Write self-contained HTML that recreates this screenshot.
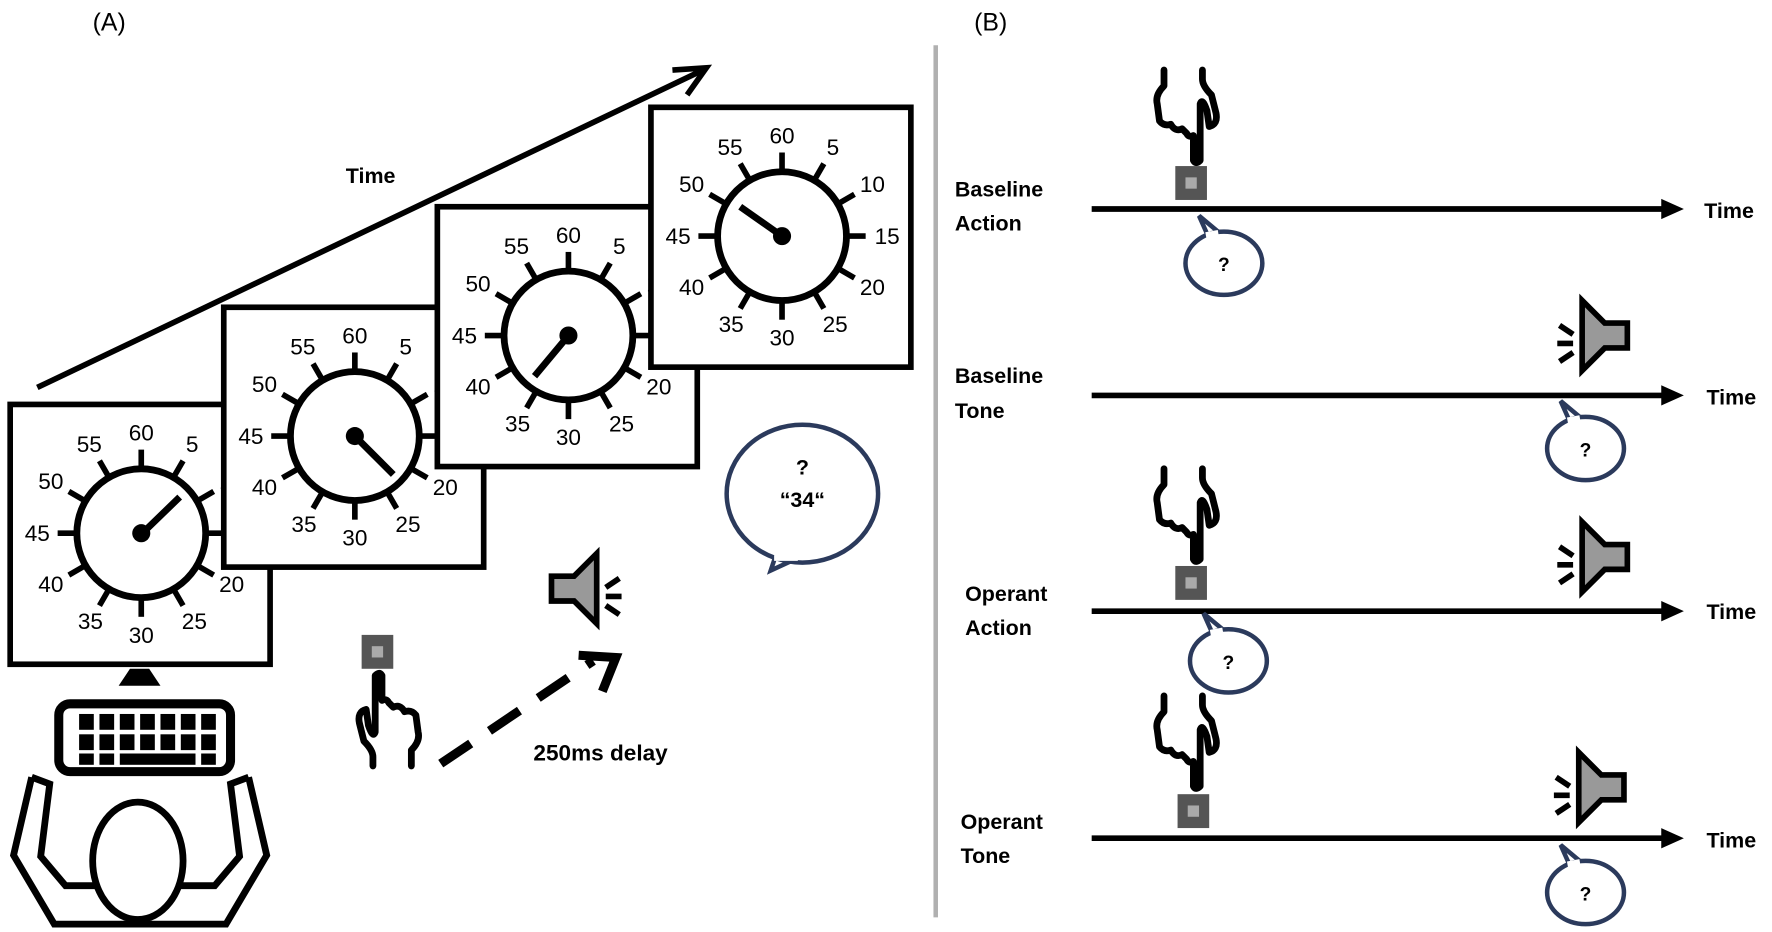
<!DOCTYPE html>
<html><head><meta charset="utf-8"><style>
html,body{margin:0;padding:0;background:#fff;}
svg{display:block;}
text{font-family:"Liberation Sans",sans-serif;}
.b{font-weight:bold;}
</style></head><body>
<svg width="1772" height="932" viewBox="0 0 1568 825" preserveAspectRatio="none" xmlns="http://www.w3.org/2000/svg">
<defs>
<g id="dial">
  <rect x="-116" y="-114" width="230" height="230" fill="#fff" stroke="#000" stroke-width="5"/>
  <circle r="57" fill="#fff" stroke="#000" stroke-width="6"/>
  <g stroke="#000" stroke-width="5">
    <line y1="-57" y2="-74"/><line y1="-57" y2="-74" transform="rotate(30)"/><line y1="-57" y2="-74" transform="rotate(60)"/>
    <line y1="-57" y2="-74" transform="rotate(90)"/><line y1="-57" y2="-74" transform="rotate(120)"/><line y1="-57" y2="-74" transform="rotate(150)"/>
    <line y1="-57" y2="-74" transform="rotate(180)"/><line y1="-57" y2="-74" transform="rotate(210)"/><line y1="-57" y2="-74" transform="rotate(240)"/>
    <line y1="-57" y2="-74" transform="rotate(270)"/><line y1="-57" y2="-74" transform="rotate(300)"/><line y1="-57" y2="-74" transform="rotate(330)"/>
  </g>
  <g font-size="20" text-anchor="middle" font-family="Liberation Sans, sans-serif">
    <text x="0" y="-82">60</text><text x="45" y="-72">5</text><text x="80" y="-39">10</text>
    <text x="93" y="7">15</text><text x="80" y="52">20</text><text x="47" y="85">25</text>
    <text x="0" y="97">30</text><text x="-45" y="85">35</text><text x="-80" y="52">40</text>
    <text x="-92" y="7">45</text><text x="-80" y="-39">50</text><text x="-46" y="-72">55</text>
  </g>
  <circle r="8" fill="#000"/>
</g>
<g id="handDown" fill="#fff" stroke="#000" stroke-width="6" stroke-linejoin="round" stroke-linecap="round">
  <path d="M8,0 L8,14 Q0,22 2,30 L4,45 Q8,50 14,48 Q18,55 24,52 L28,56 Q30,60 34,58 L34,80 Q36,84 40,80 L40,30 Q42,24 46,36 L48,50 Q56,48 54,38 L50,22 Q42,14 42,8 L42,0" fill="none"/>
</g>
<g id="spk">
  <polygon points="0,0 0,62 20,42 40,42 40,20 20,20" fill="#999" stroke="#000" stroke-width="5" stroke-linejoin="miter"/>
  <g stroke="#000" stroke-width="5"><line x1="-20" y1="22" x2="-8" y2="30"/><line x1="-22" y1="38" x2="-8" y2="38"/><line x1="-20" y1="54" x2="-8" y2="46"/></g>
</g>
<g id="btn"><rect width="28" height="30" fill="#555"/><rect x="9" y="10" width="10" height="10" fill="#aaa"/></g>
<g id="bub">
  <path d="M-14,-24 L-22,-42 L-4,-27" fill="#fff" stroke="#2b3a5c" stroke-width="4"/>
  <ellipse rx="34" ry="28" fill="#fff" stroke="#2b3a5c" stroke-width="4"/>
  <line x1="-16" y1="-25" x2="-5" y2="-27" stroke="#fff" stroke-width="5"/>
  <text y="7" text-anchor="middle" font-size="17" font-weight="bold" font-family="Liberation Sans, sans-serif">?</text>
</g>
</defs>

<text x="82" y="27" font-size="22">(A)</text>
<text x="862" y="27" font-size="22">(B)</text>
<line x1="828" y1="40" x2="828" y2="812" stroke="#b0b0b0" stroke-width="4"/>

<line x1="33" y1="343" x2="620" y2="63" stroke="#000" stroke-width="5"/>
<polyline points="595,62 625,60 608,84" fill="none" stroke="#000" stroke-width="5"/>
<text x="306" y="162" font-size="19" class="b">Time</text>

<use href="#dial" x="125" y="472"/>
<line x1="125" y1="473" x2="159" y2="440" stroke="#000" stroke-width="6"/>
<use href="#dial" x="314" y="386"/>
<line x1="314" y1="386" x2="348" y2="420" stroke="#000" stroke-width="6"/>
<use href="#dial" x="503" y="297"/>
<line x1="503" y1="297" x2="473" y2="333" stroke="#000" stroke-width="6"/>
<use href="#dial" x="692" y="209"/>
<line x1="692" y1="209" x2="655" y2="183" stroke="#000" stroke-width="6"/>

<polygon points="105,607 142,607 132,592 115,592" fill="#000"/>
<rect x="52" y="623" width="152" height="60" rx="10" fill="#fff" stroke="#000" stroke-width="8"/>
<g fill="#000">
  <rect x="70" y="632" width="13" height="14"/><rect x="88" y="632" width="13" height="14"/><rect x="106" y="632" width="13" height="14"/><rect x="124" y="632" width="13" height="14"/><rect x="142" y="632" width="13" height="14"/><rect x="160" y="632" width="13" height="14"/><rect x="178" y="632" width="13" height="14"/>
  <rect x="70" y="650" width="13" height="14"/><rect x="88" y="650" width="13" height="14"/><rect x="106" y="650" width="13" height="14"/><rect x="124" y="650" width="13" height="14"/><rect x="142" y="650" width="13" height="14"/><rect x="160" y="650" width="13" height="14"/><rect x="178" y="650" width="13" height="14"/>
  <rect x="70" y="667" width="13" height="10"/><rect x="88" y="667" width="13" height="10"/><rect x="106" y="667" width="67" height="10"/><rect x="178" y="667" width="13" height="10"/>
</g>
<g fill="none" stroke="#000" stroke-width="6" stroke-linejoin="miter">
  <polyline points="28,688 12,757 48,818 200,818 236,757 220,688"/>
  <polyline points="28,688 44,694 36,758 58,784 90,784"/>
  <polyline points="220,688 204,694 212,758 190,784 158,784"/>
</g>
<polygon points="122,708 114,720 130,720" fill="#000"/>
<ellipse cx="122" cy="762" rx="40" ry="52" fill="#fff" stroke="#000" stroke-width="6"/>

<use href="#btn" x="320" y="562"/>
<use href="#handDown" transform="translate(372,678) rotate(180)"/>
<line x1="390" y1="676" x2="525" y2="585" stroke="#000" stroke-width="8" stroke-dasharray="32,20"/>
<polyline points="512,580 545,582 533,612" fill="none" stroke="#000" stroke-width="8"/>
<text x="472" y="673" font-size="20" class="b">250ms delay</text>
<use href="#spk" transform="translate(528,490) scale(-1,1)"/>

<path d="M686,493 L682,505 L708,493" fill="#fff" stroke="#2b3a5c" stroke-width="4"/>
<ellipse cx="710" cy="437" rx="67" ry="61" fill="#fff" stroke="#2b3a5c" stroke-width="4"/>
<line x1="685" y1="494" x2="706" y2="494" stroke="#fff" stroke-width="5"/>
<text x="710" y="420" text-anchor="middle" font-size="19" class="b">?</text>
<text x="710" y="449" text-anchor="middle" font-size="19" class="b">“34“</text>

<g font-size="19" class="b">
  <text x="845" y="174">Baseline</text><text x="845" y="204">Action</text>
  <text x="845" y="339">Baseline</text><text x="845" y="370">Tone</text>
  <text x="854" y="532">Operant</text><text x="854" y="562">Action</text>
  <text x="850" y="734">Operant</text><text x="850" y="764">Tone</text>
  <text x="1508" y="193">Time</text><text x="1510" y="358">Time</text>
  <text x="1510" y="548">Time</text><text x="1510" y="750">Time</text>
</g>
<g stroke="#000" stroke-width="5">
  <line x1="966" y1="185" x2="1475" y2="185"/><line x1="966" y1="350" x2="1475" y2="350"/>
  <line x1="966" y1="541" x2="1475" y2="541"/><line x1="966" y1="742" x2="1475" y2="742"/>
</g>
<g fill="#000">
  <polygon points="1470,176 1490,185 1470,194"/><polygon points="1470,341 1490,350 1470,359"/>
  <polygon points="1470,532 1490,541 1470,550"/><polygon points="1470,733 1490,742 1470,751"/>
</g>
<use href="#handDown" x="1022" y="62"/>
<use href="#btn" x="1040" y="147"/>
<use href="#bub" x="1083" y="233"/>
<use href="#spk" x="1400" y="266"/>
<use href="#bub" x="1403" y="397"/>
<use href="#handDown" x="1022" y="415"/>
<use href="#btn" x="1040" y="501"/>
<use href="#bub" x="1087" y="585"/>
<use href="#spk" x="1400" y="462"/>
<use href="#handDown" x="1022" y="616"/>
<use href="#btn" x="1042" y="703"/>
<use href="#spk" x="1397" y="666"/>
<use href="#bub" x="1403" y="790"/>
</svg>
</body></html>
